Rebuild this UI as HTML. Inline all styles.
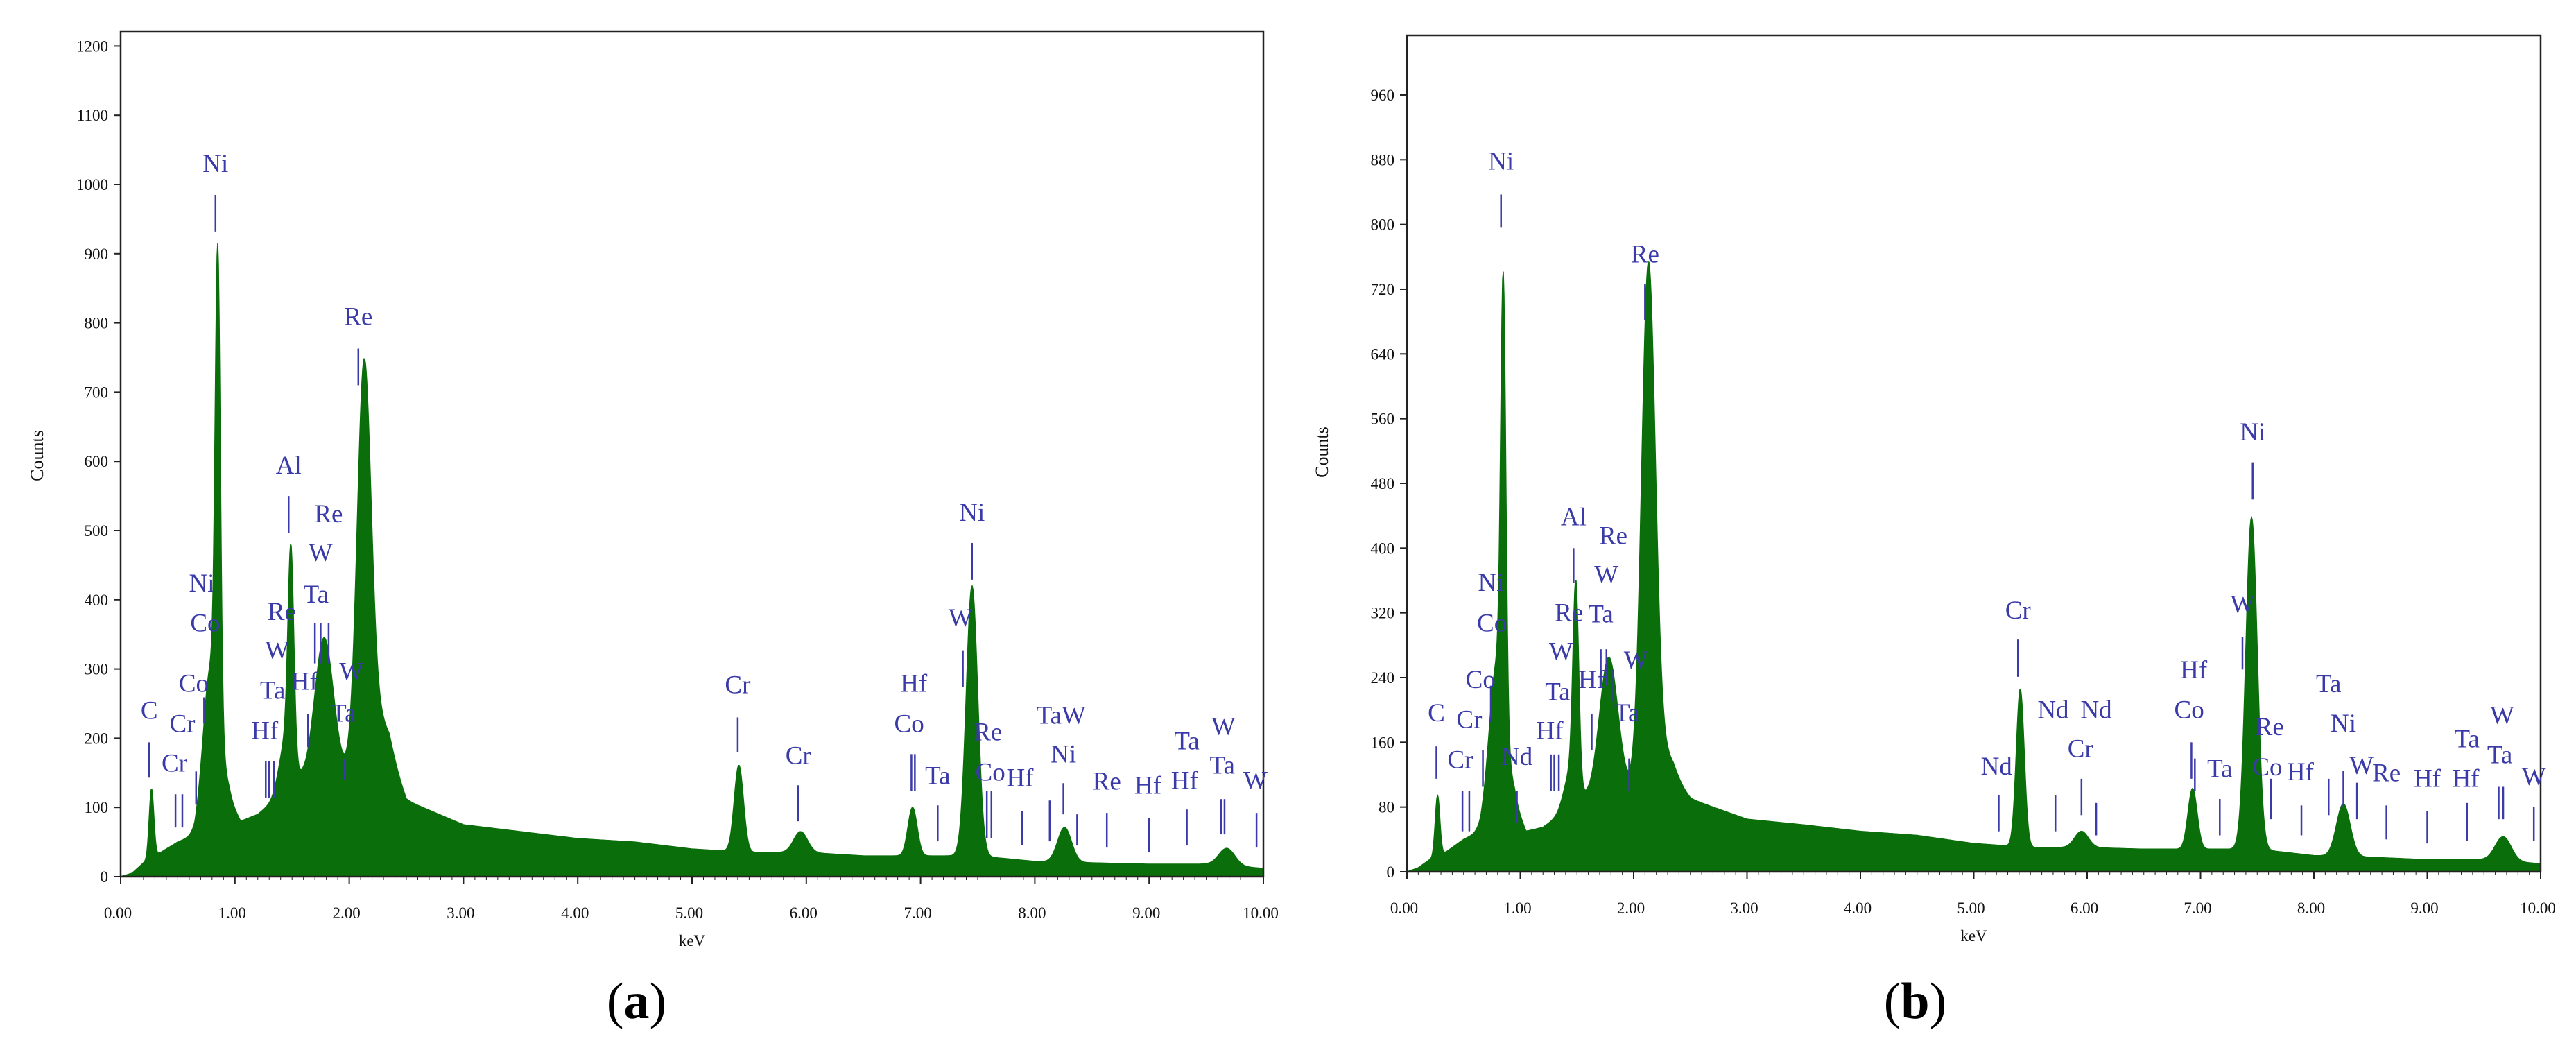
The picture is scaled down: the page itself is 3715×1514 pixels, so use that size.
<!DOCTYPE html>
<html><head><meta charset="utf-8">
<style>
html,body{margin:0;padding:0;background:#fff;}
svg{display:block;font-family:"Liberation Serif",serif;}
</style></head>
<body>
<svg id="chart" width="3715" height="1514" viewBox="0 0 3715 1514"></svg>
<script>
// ---- shared energy grid for background continuum (keV)
const bgEnergy = [0,0.1,0.2,0.35,0.5,0.65,0.75,0.95,1.05,1.2,1.35,1.6,1.95,2.35,2.5,3,3.5,4,4.5,5,5.5,6,6.5,7,7.5,8,8.5,9,9.5,10];
// ---- panel (a)
const bgCountsA = [0,5,20,35,50,60,110,110,80,90,110,140,150,170,110,75,65,55,50,40,35,35,30,30,30,22,20,18,18,12];
const peakEnergyA = [0.27,0.80,0.85,1.49,1.45,1.78,2.13,2.25,5.41,5.95,6.93,7.45,8.26,9.68];
const peakHeightA = [100,200,650,290,80,200,560,60,125,30,70,390,50,25];
const peakSigmaA  = [0.02,0.07,0.022,0.025,0.06,0.08,0.06,0.1,0.04,0.06,0.04,0.05,0.06,0.07];
const yTicksA = [0,100,200,300,400,500,600,700,800,900,1000,1100,1200];
const markLabelA = ["C","Cr","Cr","Co","Ni","Co","Ni","Hf","Ta","W","Re","Al","Hf","Ta","W","Re","W","Ta","Re","Cr","Cr","Hf","Co","Ta","W","Ni","Re","Co","Hf","TaW","Ni","Re","Hf","Ta","Hf","W","Ta","W"];
const markLabelE_A = [0.25,0.54,0.47,0.64,0.71,0.74,0.83,1.26,1.33,1.37,1.41,1.47,1.61,1.71,1.75,1.82,2.02,1.95,2.08,5.40,5.93,6.94,6.90,7.15,7.35,7.45,7.59,7.61,7.87,8.23,8.25,8.63,8.99,9.33,9.31,9.65,9.64,9.93];
const markLabelC_A = [242,223,166,281,426,368,1032,213,271,329,385,596,284,410,470,526,298,238,811,279,177,281,223,148,376,528,211,153,145,235,179,140,134,198,141,219,163,141];
const lineE_A = [0.25,0.48,0.54,0.66,0.73,0.83,1.27,1.30,1.34,1.47,1.64,1.70,1.75,1.82,1.96,2.08,5.40,5.93,6.92,6.95,7.15,7.37,7.45,7.58,7.62,7.89,8.13,8.25,8.37,8.63,9.00,9.33,9.63,9.66,9.94];
const lineTop_A = [194,119,119,152,259,985,167,167,167,550,235,366,366,366,170,763,230,132,177,177,103,327,482,124,124,95,110,135,90,92,85,97,112,112,92];
const lineBot_A = [143,71,71,104,221,932,114,114,114,497,187,308,308,308,140,710,180,80,124,124,51,274,429,56,56,46,51,90,45,42,35,45,61,61,42];
// ---- panel (b)
const bgCountsB = [0,5,15,25,40,50,80,85,50,55,70,90,100,110,90,65,58,50,45,35,30,30,28,28,28,20,18,15,15,10];
const peakEnergyB = [0.27,0.80,0.85,1.49,1.45,1.78,2.13,2.25,5.41,5.95,6.93,7.45,8.26,9.67];
const peakHeightB = [75,180,520,240,50,170,630,40,195,20,75,410,65,30];
const peakSigmaB  = [0.02,0.07,0.022,0.025,0.06,0.08,0.06,0.1,0.035,0.06,0.04,0.05,0.06,0.07];
const yTicksB = [0,80,160,240,320,400,480,560,640,720,800,880,960];
const markLabelB = ["C","Cr","Cr","Co","Ni","Co","Nd","Ni","Hf","Ta","W","Re","Al","Hf","Ta","W","Re","W","Ta","Re","Cr","Nd","Nd","Nd","Cr","Hf","Co","Ta","W","Ni","Re","Co","Hf","Ta","Ni","W","Re","Hf","Ta","Hf","W","Ta","W"];
const markLabelE_B = [0.26,0.55,0.47,0.65,0.74,0.75,0.97,0.83,1.26,1.33,1.36,1.43,1.47,1.63,1.71,1.76,1.82,2.02,1.94,2.10,5.39,5.20,5.70,6.08,5.94,6.94,6.90,7.17,7.37,7.46,7.61,7.59,7.88,8.13,8.26,8.42,8.64,9.00,9.35,9.34,9.66,9.64,9.94];
const markLabelC_B = [198,190,140,239,359,309,144,880,176,224,274,322,440,239,320,369,417,263,198,765,325,132,202,202,154,251,202,129,332,545,181,131,125,234,185,133,124,117,166,117,195,146,119];
const lineE_B = [0.26,0.49,0.55,0.67,0.74,0.83,0.97,1.27,1.30,1.34,1.47,1.63,1.71,1.76,1.82,1.96,2.10,5.22,5.39,5.72,5.95,6.08,6.92,6.95,7.17,7.37,7.46,7.62,7.89,8.13,8.26,8.38,8.64,9.00,9.35,9.63,9.67,9.94];
const lineTop_B = [155,100,100,150,230,837,100,145,145,145,400,195,275,275,250,140,726,95,287,95,115,85,160,140,90,290,506,115,82,115,125,110,82,75,85,105,105,80];
const lineBot_B = [115,50,50,105,185,796,60,100,100,100,357,150,230,230,210,100,682,50,241,50,70,45,115,100,45,250,460,65,45,70,80,65,40,35,38,65,65,38];

const NS = "http://www.w3.org/2000/svg";
const svg = document.getElementById('chart');
function mk(tag, attrs, parent){
  const e = document.createElementNS(NS, tag);
  for (const k in attrs) e.setAttribute(k, attrs[k]);
  (parent||svg).appendChild(e);
  return e;
}
function interp(xs, ys, x){
  for (let i=1;i<xs.length;i++){
    if (x<=xs[i]){ const t=(x-xs[i-1])/(xs[i]-xs[i-1]); return ys[i-1]+t*(ys[i]-ys[i-1]); }
  }
  return ys[ys.length-1];
}
function drawPanel(p){
  const g = mk('g', {});
  
  
  const xS = e => p.left + e*(p.right-p.left)/10;
  const yS = c => p.zero - c*p.pxPerCount;
  let d = 'M'+xS(0)+','+p.zero;
  for (let px=0; px<=p.right-p.left; px++){
    const e = px*10/(p.right-p.left);
    let c = interp(bgEnergy, p.bg, e);
    for (let k=0;k<p.pe.length;k++){ const z=(e-p.pe[k])/p.ps[k]; c += p.ph[k]*Math.exp(-0.5*z*z); }
    d += ' L'+xS(e).toFixed(1)+','+yS(c).toFixed(1);
  }
  d += ' L'+xS(10)+','+p.zero+' Z';
  const spec = mk('path', {d:d, fill:'#0a6e0a', stroke:'#0a6e0a', 'stroke-width':1.5}, g);
  
  
  const fr = mk('rect', {x:p.left, y:p.top, width:p.right-p.left, height:p.zero-p.top, fill:'none', stroke:'#222', 'stroke-width':2.5}, g);
  
  
  p.yt.forEach(v=>{
    const y=yS(v);
    const tk = mk('line',{x1:p.left-10,x2:p.left,y1:y,y2:y,stroke:'#222','stroke-width':2},g);
    
    
    const t = mk('text',{x:p.left-18,y:y+8,'text-anchor':'end','font-size':23,fill:'#111'},g);
    t.textContent=v;
    
    
  });
  for (let i=0;i<=10;i++){
    const x=xS(i);
    const tk = mk('line',{x1:x,x2:x,y1:p.zero,y2:p.zero+10,stroke:'#222','stroke-width':2},g);
    
    
    const t = mk('text',{x:x-4,y:p.zero+60,'text-anchor':'middle','font-size':23,fill:'#111'},g);
    t.textContent=i.toFixed(2);
    
    
  }
  for (let i=0;i<100;i++){
    const x=xS(i*0.1);
    const tk = mk('line',{x1:x,x2:x,y1:p.zero,y2:p.zero+5,stroke:'#222','stroke-width':1},g);
    
    
  }
  const xt = mk('text',{x:(p.left+p.right)/2,y:p.zero+100,'text-anchor':'middle','font-size':23,fill:'#111'},g);
  xt.textContent='keV';
  
  
  const yt = mk('text',{x:p.ylx,y:p.yly,'text-anchor':'middle','font-size':26,fill:'#111',transform:'rotate(-90 '+p.ylx+' '+p.yly+')'},g);
  yt.textContent='Counts';
  
  
  p.le.forEach((e,i)=>{
    const l = mk('line',{x1:xS(e),x2:xS(e),y1:yS(p.lt[i]),y2:yS(p.lb[i]),stroke:'#3a3aa8','stroke-width':2.5},g);
    
    
  });
  p.ml.forEach((s,i)=>{
    const t = mk('text',{x:xS(p.me[i]),y:yS(p.mc[i])+14,'text-anchor':'middle','font-size':37,fill:'#3a3aa8'},g);
    t.textContent=s;
    
    
  });
  const cap = mk('text',{x:p.capx,y:1468,'text-anchor':'middle','font-size':74,fill:'#000'},g);
  cap.innerHTML='(<tspan font-weight="bold">'+p.cap+'</tspan>)';
  
  
}
drawPanel({name:'panel-a-spectrum',left:174,right:1822,top:45,zero:1264,pxPerCount:0.998,bg:bgCountsA,pe:peakEnergyA,ph:peakHeightA,ps:peakSigmaA,yt:yTicksA,ml:markLabelA,me:markLabelE_A,mc:markLabelC_A,le:lineE_A,lt:lineTop_A,lb:lineBot_A,ylx:62,yly:657,capx:918,cap:'a'});
drawPanel({name:'panel-b-spectrum',left:2029,right:3664,top:51,zero:1257,pxPerCount:1.1667,bg:bgCountsB,pe:peakEnergyB,ph:peakHeightB,ps:peakSigmaB,yt:yTicksB,ml:markLabelB,me:markLabelE_B,mc:markLabelC_B,le:lineE_B,lt:lineTop_B,lb:lineBot_B,ylx:1915,yly:652,capx:2762,cap:'b'});
</script>
</body></html>
